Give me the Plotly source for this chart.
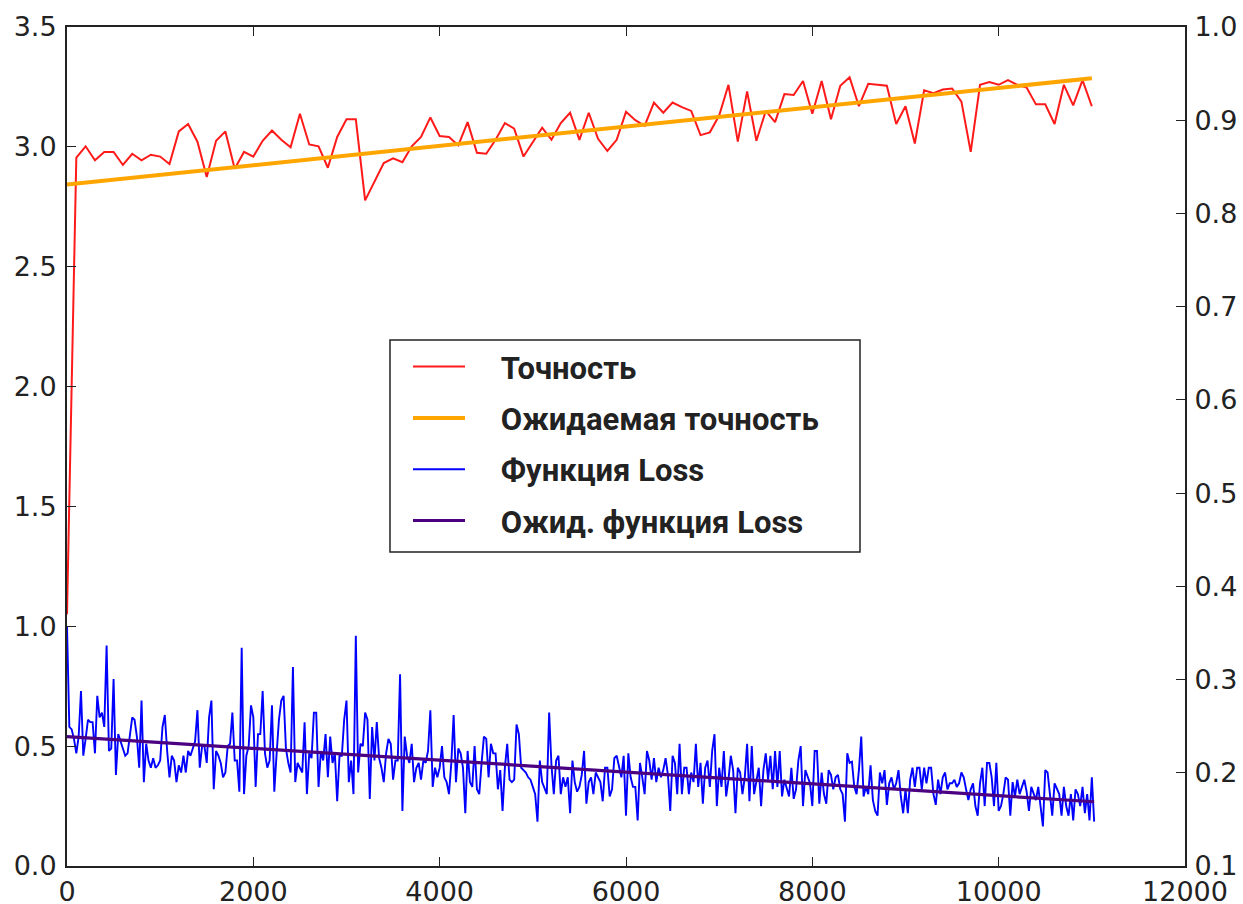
import plotly.graph_objects as go

# ---- data ----
acc_step = 100
accuracy = [0.37,
    0.860,0.872,0.857,0.866,0.866,0.852,0.864,0.857,0.863,0.861,
    0.853,0.888,0.896,0.877,0.839,0.878,0.888,0.848,0.866,0.861,
    0.878,0.889,0.879,0.871,0.907,0.874,0.872,0.849,0.882,0.901,
    0.901,0.814,0.834,0.854,0.859,0.855,0.872,0.882,0.903,0.883,
    0.882,0.873,0.898,0.865,0.864,0.879,0.897,0.891,0.861,0.877,
    0.892,0.879,0.897,0.908,0.879,0.908,0.880,0.867,0.879,0.909,
    0.900,0.894,0.919,0.908,0.919,0.914,0.910,0.884,0.887,0.905,
    0.938,0.877,0.931,0.878,0.910,0.898,0.928,0.927,0.942,0.907,
    0.942,0.901,0.937,0.946,0.915,0.939,0.938,0.937,0.896,0.915,
    0.875,0.932,0.929,0.933,0.934,0.920,0.866,0.938,0.941,0.938,
    0.943,0.938,0.935,0.917,0.917,0.896,0.938,0.916,0.943,0.915]

acc_fit_steps = [0, 11000]
acc_fit_values = [0.831, 0.945]

loss_step = 25
loss = [1.0,
    0.58,0.57,0.53,0.47,0.54,0.73,0.46,0.53,0.61,0.60,
    0.60,0.47,0.71,0.62,0.64,0.58,0.92,0.48,0.49,0.78,
    0.38,0.55,0.52,0.48,0.46,0.47,0.55,0.62,0.61,0.54,
    0.41,0.69,0.35,0.51,0.44,0.41,0.45,0.41,0.42,0.44,
    0.58,0.63,0.48,0.37,0.46,0.44,0.35,0.42,0.39,0.46,
    0.39,0.48,0.46,0.49,0.52,0.65,0.41,0.50,0.50,0.43,
    0.62,0.69,0.32,0.48,0.46,0.43,0.37,0.39,0.50,0.51,
    0.64,0.44,0.44,0.31,0.91,0.30,0.46,0.50,0.67,0.62,
    0.33,0.55,0.55,0.73,0.47,0.41,0.44,0.67,0.31,0.47,
    0.61,0.69,0.71,0.49,0.43,0.39,0.83,0.35,0.43,0.41,
    0.39,0.60,0.30,0.47,0.45,0.64,0.64,0.33,0.48,0.44,
    0.55,0.37,0.54,0.43,0.47,0.27,0.46,0.46,0.61,0.69,
    0.35,0.44,0.30,0.96,0.39,0.51,0.50,0.64,0.61,0.28,
    0.58,0.44,0.60,0.45,0.41,0.35,0.47,0.53,0.51,0.36,
    0.44,0.44,0.80,0.23,0.54,0.46,0.43,0.51,0.35,0.41,
    0.43,0.36,0.44,0.43,0.48,0.65,0.33,0.41,
    0.37,0.41,0.50,0.37,0.35,0.30,
    0.43,0.63,0.35,0.49,0.47,0.41,0.22,0.48,0.35,0.33,
    0.50,0.32,0.30,0.43,0.54,0.53,0.37,0.51,0.47,0.47,
    0.32,0.40,0.23,0.41,0.51,0.36,0.35,0.36,0.59,0.55,
    0.41,0.40,0.39,0.37,0.36,0.33,0.30,0.185,0.44,0.35,
    0.32,0.30,0.64,0.42,0.30,0.44,0.46,0.30,0.37,0.33,
    0.37,0.22,0.44,0.35,0.31,0.33,0.38,0.48,0.26,0.35,
    0.37,0.30,0.39,0.37,0.35,0.27,0.41,0.41,0.29,0.32,
    0.45,0.46,0.41,0.37,0.46,0.21,0.47,0.37,0.33,0.33,
    0.19,0.43,0.37,0.30,0.48,0.44,0.36,0.45,0.35,0.41,
    0.37,0.40,0.45,0.38,0.23,0.46,0.43,0.30,0.51,0.30,
    0.41,0.41,0.30,0.39,0.35,0.51,0.33,0.43,0.26,0.41,
    0.44,0.33,0.48,0.55,0.25,0.41,0.33,0.48,0.29,0.36,
    0.46,0.40,0.22,0.41,0.39,0.30,0.37,0.51,0.27,0.50,
    0.30,0.36,0.41,0.25,0.40,0.47,0.36,0.46,0.32,0.48,
    0.33,0.48,0.29,0.36,0.33,0.29,0.41,0.28,0.32,0.44,
    0.50,0.25,0.40,0.37,
    0.345,0.25,0.48,0.48,0.26,0.39,0.30,0.26,0.40,0.38,
    0.32,0.37,0.38,0.32,0.30,0.185,0.47,0.43,0.435,0.33,
    0.30,0.40,0.54,0.29,0.33,0.30,0.42,0.275,0.23,0.21,
    0.39,0.345,0.40,0.255,0.345,0.37,0.32,0.345,0.40,0.29,
    0.22,0.32,0.22,0.36,0.41,0.33,0.41,0.41,0.32,0.41,
    0.345,0.41,0.41,0.30,0.255,0.36,0.30,0.37,0.39,0.32,
    0.345,0.345,0.36,0.33,0.345,0.39,0.37,0.32,0.275,0.32,
    0.345,0.25,0.21,0.345,0.41,0.25,0.43,0.43,0.37,0.25,
    0.43,0.23,0.25,0.30,0.37,0.36,0.21,0.35,0.29,0.36,
    0.30,0.33,0.36,0.31,0.23,0.33,0.30,0.275,0.33,0.25,
    0.165,0.40,0.39,0.30,0.21,0.345,0.32,0.30,0.21,0.33,
    0.25,0.21,0.30,0.19,0.32,0.30,0.25,0.33,0.22,0.30,
    0.19,0.37,0.185]

loss_fit_steps = [0, 11025]
loss_fit_values = [0.54, 0.268]

names = ["Точность", "Ожидаемая точность", "Функция Loss", "Ожид. функция Loss"]
left_ticks = [0.0, 0.5, 1.0, 1.5, 2.0, 2.5, 3.0, 3.5]
right_ticks = [0.1, 0.2, 0.3, 0.4, 0.5, 0.6, 0.7, 0.8, 0.9, 1.0]
x_ticks = [0, 2000, 4000, 6000, 8000, 10000, 12000]

acc_steps = [i * acc_step for i in range(len(accuracy))]
loss_steps = [i * loss_step for i in range(len(loss))]

pad = "\u00a0" * 4
fig = go.Figure()
fig.add_trace(go.Scatter(x=acc_steps, y=accuracy, mode="lines", name=pad + names[0],
                         line=dict(color="#ff1a1a", width=2), yaxis="y2", legendgroup="a"))
fig.add_trace(go.Scatter(x=acc_fit_steps, y=acc_fit_values, mode="lines", name=pad + names[1],
                         line=dict(color="#ffa500", width=4), yaxis="y2", legendgroup="b"))
fig.add_trace(go.Scatter(x=loss_steps, y=loss, mode="lines", name=pad + names[2],
                         line=dict(color="#0000ff", width=1.9), yaxis="y", legendgroup="c"))
fig.add_trace(go.Scatter(x=loss_fit_steps, y=loss_fit_values, mode="lines", name=pad + names[3],
                         line=dict(color="#4b0082", width=3.2), yaxis="y", legendgroup="d"))

tickfont = dict(family="DejaVu Sans", size=27, color="#222222")
axis_common = dict(showgrid=False, zeroline=False, showline=True, linecolor="#222222",
                   linewidth=2, ticks="inside", ticklen=9, tickwidth=1.2, tickcolor="#222222",
                   tickfont=tickfont, automargin=False)

fig.update_layout(
    width=1243, height=904,
    margin=dict(l=67, r=58, t=27, b=38),
    paper_bgcolor="white", plot_bgcolor="white",
    showlegend=True,
    xaxis=dict(range=[0, 12000], tickvals=x_ticks, ticktext=[str(v) for v in x_ticks],
               mirror="ticks", ticklabelstandoff=1, **axis_common),
    yaxis=dict(range=[0, 3.5], tickvals=left_ticks, ticktext=[f"{v:.1f}" for v in left_ticks],
               side="left", ticklabelstandoff=3, **axis_common),
    yaxis2=dict(range=[0.1, 1.0], tickvals=right_ticks, ticktext=[f"{v:.1f}" for v in right_ticks],
                side="right", overlaying="y", ticklabelstandoff=2, **axis_common),
    legend=dict(x=0.305, y=0.627, xanchor="left", yanchor="top",
                bgcolor="rgba(0,0,0,0)", borderwidth=0,
                font=dict(family="Roboto, sans-serif", size=31, color="#222222", weight="bold"),
                traceorder="grouped", tracegroupgap=8, itemwidth=52),
    shapes=[dict(type="rect", xref="paper", yref="paper",
                 x0=0.2889, x1=0.7093, y0=0.3743, y1=0.6269,
                 line=dict(color="#222222", width=1.5), fillcolor="white", layer="above")],
)

fig.write_html("out.html", config={"displayModeBar": False},
               post_script="document.body.style.margin='0';document.body.style.overflow='hidden';")
